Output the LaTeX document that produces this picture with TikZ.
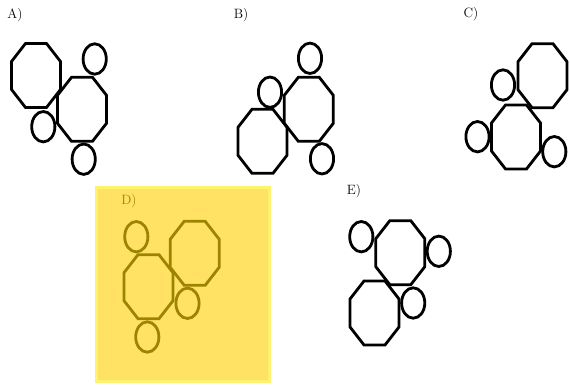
\documentclass[tikz,border=0pt]{standalone}
\usepackage{tikz}
\definecolor{goldfill}{HTML}{FFE264}
\definecolor{goldedge}{HTML}{FFF26E}
\definecolor{olive}{HTML}{9C8400}
\tikzset{
  shp/.style={draw=black,line width=2.8pt,line join=miter},
  dshp/.style={shp,draw=olive},
  lbl/.style={font=\fontsize{13.5}{15}\selectfont,inner sep=0pt},
}
\newcommand\octo[3][]{\draw[shp,#1,shift={(#2,#3)}] (-10.5,-32) -- (10.5,-32) -- (24.5,-14) -- (24.5,14) -- (10.5,32) -- (-10.5,32) -- (-24.5,14) -- (-24.5,-14) -- cycle;}
\newcommand\ovl[3][]{\draw[shp,#1] (#2,#3) ellipse [x radius=11.6, y radius=15.2];}
\begin{document}
\begin{tikzpicture}[x=1pt,y=-1pt]
\useasboundingbox (0,0) rectangle (570,387);
% A
\node[lbl] (la) at (15,15) {A)};
\octo{36}{75.5}
\octo{82}{109.3}
\ovl{94.7}{59}
\ovl{43.3}{126.7}
\ovl{83.7}{159.2}
% B
\node[lbl] (lb) at (241,15) {B)};
\octo{262.5}{141.3}
\octo{308.8}{109.3}
\ovl{310}{58.3}
\ovl{270}{92.2}
\ovl{322}{158.8}
% C
\node[lbl] (lc) at (471,14) {C)};
\octo{542.5}{75.7}
\octo{516}{137}
\ovl{503}{85}
\ovl{477.5}{136.7}
\ovl{554.3}{151.7}
% D
\draw[fill=goldfill,draw=goldedge,line width=3pt] (96.5,187.5) rectangle (269.5,381.8);
\node[lbl,text=olive] (ld) at (129,201.5) {D)};
\octo[dshp]{148.5}{286.7}
\octo[dshp]{194.7}{253.3}
\ovl[dshp]{136.3}{236.7}
\ovl[dshp]{187.5}{303.3}
\ovl[dshp]{147.3}{337}
% E
\node[lbl] (le) at (354,191.5) {E)};
\octo{400.3}{252.7}
\octo{374.5}{313}
\ovl{361.3}{236.7}
\ovl{438.8}{251.3}
\ovl{413.2}{303}
\end{tikzpicture}
\end{document}
